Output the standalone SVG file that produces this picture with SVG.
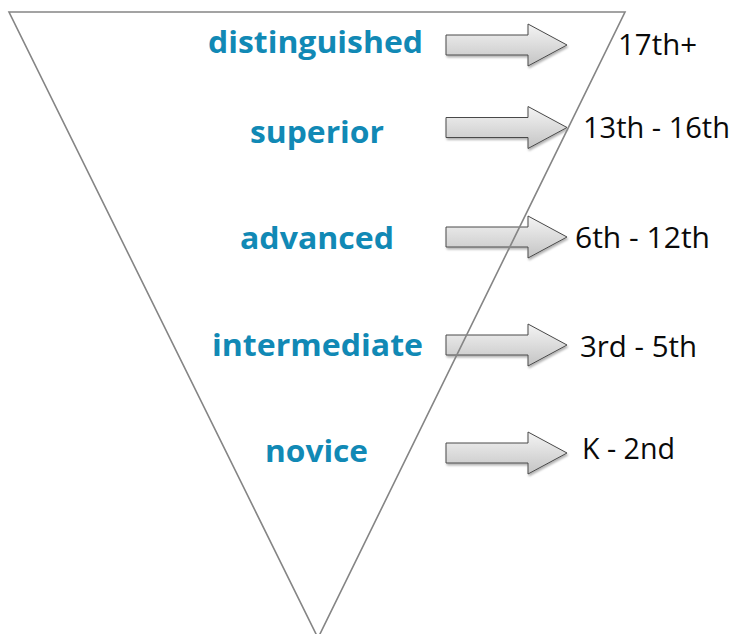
<svg xmlns="http://www.w3.org/2000/svg" width="736" height="634" viewBox="0 0 736 634">
  <style>
    .level { font-family: "Open Sans", "Liberation Sans", sans-serif; font-weight: bold; font-size: 30px; fill: #1189b5; }
    .grade { font-family: "Open Sans", "Liberation Sans", sans-serif; font-size: 29px; fill: #0a0a0a; }
    .arrow { fill: url(#arrowFill); stroke: #4a4a4a; stroke-width: 1; filter: url(#soft); }
    .funnel { fill: none; stroke: #858585; stroke-width: 1.6; stroke-linejoin: miter; }
  </style>
  <defs>
    <linearGradient id="arrowFill" x1="0" y1="0" x2="0" y2="1">
      <stop offset="0" stop-color="#f4f4f4"/>
      <stop offset="1" stop-color="#c4c4c4"/>
    </linearGradient>
    <filter id="soft" x="-10%" y="-20%" width="130%" height="150%">
      <feDropShadow dx="1" dy="2" stdDeviation="1.2" flood-color="#000" flood-opacity="0.3"/>
    </filter>
  </defs>
  <rect width="736" height="634" fill="#ffffff"/>

  <!-- block arrows pointing from each level to its grade range -->
  <g id="connectors">
    <path class="arrow" d="M446,35 H528 V24 L567,45 L528,66 V55 H446 Z"/>
    <path class="arrow" d="M446,117.5 H528 V106.5 L567,127.5 L528,148.5 V137.5 H446 Z"/>
    <path class="arrow" d="M446,227 H528 V216 L567,237 L528,258 V247 H446 Z"/>
    <path class="arrow" d="M446,335 H528 V324 L567,345 L528,366 V355 H446 Z"/>
    <path class="arrow" d="M446,443 H528 V432 L567,453 L528,474 V463 H446 Z"/>
  </g>

  <!-- inverted triangle -->
  <g id="funnel">
    <polygon class="funnel" points="9,12 625,12 318,638"/>
  </g>

  <!-- proficiency levels -->
  <g id="level-distinguished"><text class="level" x="208" y="53" textLength="215" lengthAdjust="spacingAndGlyphs">distinguished</text></g>
  <g id="level-superior"><text class="level" x="250" y="143" textLength="134" lengthAdjust="spacingAndGlyphs">superior</text></g>
  <g id="level-advanced"><text class="level" x="240" y="249" textLength="154" lengthAdjust="spacingAndGlyphs">advanced</text></g>
  <g id="level-intermediate"><text class="level" x="212" y="356" textLength="211" lengthAdjust="spacingAndGlyphs">intermediate</text></g>
  <g id="level-novice"><text class="level" x="265" y="462" textLength="103" lengthAdjust="spacingAndGlyphs">novice</text></g>

  <!-- grade ranges -->
  <g id="grade-17"><text class="grade" x="618" y="55" textLength="79" lengthAdjust="spacingAndGlyphs">17th+</text></g>
  <g id="grade-13-16"><text class="grade" x="583" y="138" textLength="147" lengthAdjust="spacingAndGlyphs">13th - 16th</text></g>
  <g id="grade-6-12"><text class="grade" x="575" y="248" textLength="135" lengthAdjust="spacingAndGlyphs">6th - 12th</text></g>
  <g id="grade-3-5"><text class="grade" x="580" y="357" textLength="117" lengthAdjust="spacingAndGlyphs">3rd - 5th</text></g>
  <g id="grade-k-2"><text class="grade" x="582" y="459" textLength="93" lengthAdjust="spacingAndGlyphs">K - 2nd</text></g>
</svg>
